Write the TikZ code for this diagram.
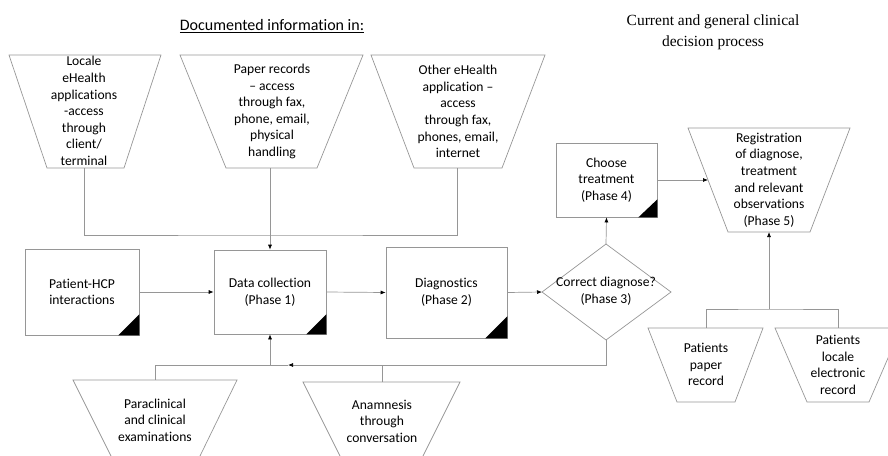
\documentclass[tikz,border=0pt]{standalone}
\usepackage{fontspec}
\setmainfont{Carlito}[Ligatures=NoCommon]
\newfontfamily\serifttl{Liberation Serif}
\usetikzlibrary{arrows.meta}
\definecolor{linegray}{RGB}{150,150,150}
\begin{document}
\begin{tikzpicture}[x=1pt,y=-1pt,
  shp/.style={draw=linegray, line width=0.7pt},
  txt/.style={align=center, font=\fontsize{13.6}{16.6}\selectfont, inner sep=0pt},
  box/.style={shp, txt},
  con/.style={draw=linegray, line width=0.7pt},
  arr/.style={con, -{Latex[length=5pt,width=4pt,color=black]}},
  corner/.style={fill=black}]
\useasboundingbox (0,0) rectangle (888,455);

% headings
\node[align=center, font=\fontsize{16}{19}\selectfont, inner sep=0pt] (doc) at (272,26) {\underline{Documented information in:}};
\node[align=center, font=\serifttl\fontsize{15.5}{21}\selectfont, inner sep=0pt] (ttl) at (713,32.5) {Current and general clinical\\decision process};

% top trapezoids
\draw[shp] (9,55) -- (161,55) -- (124,168) -- (47,168) -- cycle;
\node[txt] (t1) at (84,111) {Locale\\eHealth\\applications\\-access\\through\\client/\\terminal};
\draw[shp] (180,55) -- (363,55) -- (317,168) -- (226,168) -- cycle;
\node[txt] (t2) at (272,111.5) {Paper records\\– access\\through fax,\\phone, email,\\physical\\handling};
\draw[shp] (371,55) -- (545,55) -- (502,168) -- (414,168) -- cycle;
\node[txt] (t3) at (458,111.5) {Other eHealth\\application –\\access\\through fax,\\phones, email,\\internet};
\coordinate (t1b) at (84,168);
\coordinate (t2b) at (270,168);
\coordinate (t3b) at (457,168);
\coordinate (bus) at (270,235);

% process boxes
\node[box, minimum width=114, minimum height=86] (hcp) at (82,292) {Patient-HCP\\interactions};
\node[box, minimum width=112, minimum height=84] (dc) at (270,292) {Data collection\\(Phase 1)};
\node[box, minimum width=121, minimum height=91] (dg) at (446.5,292.5) {Diagnostics\\(Phase 2)};
\node[box, minimum width=101, minimum height=74] (ct) at (606.5,180) {Choose\\treatment\\(Phase 4)};
\fill[corner] (hcp.south east) -- ++(-21,0) -- ++(21,-21) -- cycle;
\fill[corner] (dc.south east) -- ++(-20,0) -- ++(20,-20) -- cycle;
\fill[corner] (dg.south east) -- ++(-22,0) -- ++(22,-22) -- cycle;
\fill[corner] (ct.south east) -- ++(-19,0) -- ++(19,-18) -- cycle;

% decision diamond
\coordinate (dl) at (542,292);
\coordinate (dt) at (606,244);
\coordinate (dr) at (671,292);
\coordinate (db) at (606,340);
\draw[shp] (dl) -- (dt) -- (dr) -- (db) -- cycle;
\node[txt] (cd) at (606,291.5) {Correct diagnose?\\(Phase 3)};

% registration trapezoid
\draw[shp] (688,128) -- (850,128) -- (810,232) -- (728,232) -- cycle;
\node[txt] (reg) at (769,180) {Registration\\of diagnose,\\treatment\\and relevant\\observations\\(Phase 5)};
\coordinate (regl) at (708,180);
\coordinate (regb) at (769,232);

% patient record trapezoids
\draw[shp] (648,328) -- (763,328) -- (735,402) -- (677,402) -- cycle;
\node[txt] (p1) at (706,364.5) {Patients\\paper\\record};
\draw[shp] (775,328) -- (901,328) -- (869,402) -- (807,402) -- cycle;
\node[txt] (p2) at (838,365) {Patients\\locale\\electronic\\record};
\coordinate (p1t) at (706,328);
\coordinate (p2t) at (838,328);
\coordinate (pbus) at (769,309);

% bottom trapezoids
\draw[shp] (111,456) -- (73,380) -- (237,380) -- (200,456);
\node[txt] (pc) at (155,420) {Paraclinical\\and clinical\\examinations};
\draw[shp] (340,456) -- (303,382) -- (460,382) -- (423,456);
\node[txt] (an) at (382,421) {Anamnesis\\through\\conversation};
\coordinate (pct) at (155,380);
\coordinate (ant) at (382,382);
\coordinate (fb) at (288,365);
\coordinate (jb) at (270,365);

% connectors
\draw[con] (t1b) |- (bus) -| (t3b);
\draw[arr] (t2b) -- (dc.north);
\draw[arr] (hcp.east) -- (dc.west);
\draw[arr] (dc.east) -- (dg.west);
\draw[arr] (dg.east) -- (dl);
\draw[arr] (dt) -- (ct.south);
\draw[arr] (ct.east |- regl) -- (regl);
\draw[arr] (pbus) -- (regb);
\draw[con] (p1t) |- (pbus) -| (p2t);
\draw[arr] (db) |- (fb);
\draw[con] (fb) -| (pct);
\draw[con] (ant) -- (ant |- fb);
\draw[arr] (jb) -- (dc.south);
\end{tikzpicture}
\end{document}
